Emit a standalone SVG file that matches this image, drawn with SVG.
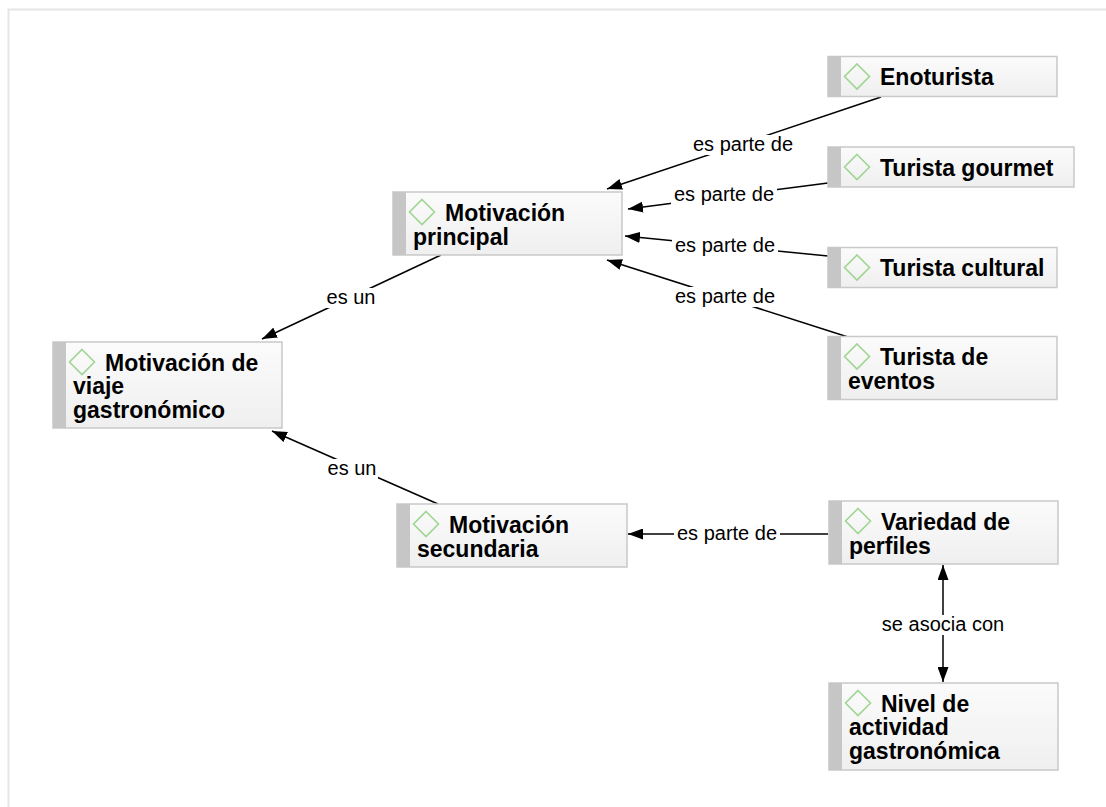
<svg xmlns="http://www.w3.org/2000/svg" width="1106" height="807" viewBox="0 0 1106 807">
<style>
.box{fill:url(#g);stroke:#c9c9c9;stroke-width:1.5}
.bar{fill:#c6c6c6}
.dia{fill:none;stroke:#9fd592;stroke-width:1.6}
.t{font-family:"Liberation Sans",Arial,sans-serif;font-weight:bold;font-size:23px;fill:#000}
.e{stroke:#000;stroke-width:1.5;fill:none}
.lb{font-family:"Liberation Sans",Arial,sans-serif;font-size:20px;fill:#000;text-anchor:middle}
.lbg{fill:#fff}
</style>
<defs>
<linearGradient id="g" x1="0" y1="0" x2="0" y2="1">
<stop offset="0" stop-color="#fbfbfb"/>
<stop offset="1" stop-color="#efefef"/>
</linearGradient>
<marker id="a" markerUnits="userSpaceOnUse" markerWidth="15" markerHeight="11" refX="15" refY="5.5" orient="auto">
<path d="M0,0 L15,5.5 L0,11 z" fill="#000"/>
</marker>
<marker id="as" markerUnits="userSpaceOnUse" markerWidth="15" markerHeight="11" refX="0" refY="5.5" orient="auto">
<path d="M15,0 L0,5.5 L15,11 z" fill="#000"/>
</marker>
</defs>
<rect width="1106" height="807" fill="#fff"/>
<path d="M8.5,807 V9.5 H1106" fill="none" stroke="#e6e6e6" stroke-width="2"/>

<g id="connectors">
<line class="e" x1="881" y1="97" x2="607" y2="189" marker-end="url(#a)"/>
<line class="e" x1="828" y1="183" x2="628" y2="209" marker-end="url(#a)"/>
<line class="e" x1="828" y1="256" x2="625" y2="236" marker-end="url(#a)"/>
<line class="e" x1="848" y1="337" x2="607" y2="260" marker-end="url(#a)"/>
<line class="e" x1="441" y1="255" x2="262" y2="339" marker-end="url(#a)"/>
<line class="e" x1="438" y1="504" x2="272" y2="431" marker-end="url(#a)"/>
<line class="e" x1="828" y1="534" x2="628" y2="534" marker-end="url(#a)"/>
<line class="e" x1="943" y1="565" x2="943" y2="682" marker-start="url(#as)" marker-end="url(#a)"/>
<rect class="lbg" x="691" y="135" width="104" height="20"/>
<text class="lb" x="743" y="151">es parte de</text>
<rect class="lbg" x="671" y="185" width="106" height="20"/>
<text class="lb" x="724" y="201">es parte de</text>
<rect class="lbg" x="672" y="236" width="106" height="20"/>
<text class="lb" x="725" y="252">es parte de</text>
<rect class="lbg" x="672" y="287" width="106" height="20"/>
<text class="lb" x="725" y="303">es parte de</text>
<rect class="lbg" x="325" y="288" width="52" height="20"/>
<text class="lb" x="351" y="304">es un</text>
<rect class="lbg" x="326" y="459" width="52" height="20"/>
<text class="lb" x="352" y="475">es un</text>
<rect class="lbg" x="674" y="524" width="106" height="20"/>
<text class="lb" x="727" y="540">es parte de</text>
<rect class="lbg" x="876" y="615" width="134" height="20"/>
<text class="lb" x="943" y="631">se asocia con</text>
</g>

<g id="n-enoturista">
<rect class="box" x="828" y="56.5" width="229" height="40"/>
<rect class="bar" x="828" y="56.5" width="13" height="40"/>
<path class="dia" d="M857,64 L869.5,76.5 L857,89 L844.5,76.5 Z"/>
<text class="t" x="880" y="85">Enoturista</text>
</g>
<g id="n-gourmet">
<rect class="box" x="828" y="147" width="246" height="40"/>
<rect class="bar" x="828" y="147" width="13" height="40"/>
<path class="dia" d="M857,154.5 L869.5,167 L857,179.5 L844.5,167 Z"/>
<text class="t" x="880" y="175.5">Turista gourmet</text>
</g>
<g id="n-cultural">
<rect class="box" x="828" y="247.5" width="229" height="40"/>
<rect class="bar" x="828" y="247.5" width="13" height="40"/>
<path class="dia" d="M857,255 L869.5,267.5 L857,280 L844.5,267.5 Z"/>
<text class="t" x="880" y="276">Turista cultural</text>
</g>
<g id="n-eventos">
<rect class="box" x="828" y="336.5" width="229" height="63"/>
<rect class="bar" x="828" y="336.5" width="13" height="63"/>
<path class="dia" d="M857,344 L869.5,356.5 L857,369 L844.5,356.5 Z"/>
<text class="t"><tspan x="880" y="365">Turista de</tspan><tspan x="848" y="389">eventos</tspan></text>
</g>
<g id="n-principal">
<rect class="box" x="393" y="192" width="229" height="63"/>
<rect class="bar" x="393" y="192" width="13" height="63"/>
<path class="dia" d="M422,199.5 L434.5,212 L422,224.5 L409.5,212 Z"/>
<text class="t"><tspan x="445" y="220.5">Motivación</tspan><tspan x="413" y="244.5">principal</tspan></text>
</g>
<g id="n-viaje">
<rect class="box" x="53" y="342" width="229" height="86"/>
<rect class="bar" x="53" y="342" width="13" height="86"/>
<path class="dia" d="M82,349.5 L94.5,362 L82,374.5 L69.5,362 Z"/>
<text class="t"><tspan x="105" y="370.5">Motivación de</tspan><tspan x="73" y="394">viaje</tspan><tspan x="73" y="417.5">gastronómico</tspan></text>
</g>
<g id="n-secundaria">
<rect class="box" x="397" y="504" width="230" height="63"/>
<rect class="bar" x="397" y="504" width="13" height="63"/>
<path class="dia" d="M426,511.5 L438.5,524 L426,536.5 L413.5,524 Z"/>
<text class="t"><tspan x="449" y="532.5">Motivación</tspan><tspan x="417" y="556.5">secundaria</tspan></text>
</g>
<g id="n-variedad">
<rect class="box" x="829" y="501" width="229" height="63"/>
<rect class="bar" x="829" y="501" width="13" height="63"/>
<path class="dia" d="M858,508.5 L870.5,521 L858,533.5 L845.5,521 Z"/>
<text class="t"><tspan x="881" y="529.5">Variedad de</tspan><tspan x="849" y="553.5">perfiles</tspan></text>
</g>
<g id="n-nivel">
<rect class="box" x="829" y="683" width="229" height="87"/>
<rect class="bar" x="829" y="683" width="13" height="87"/>
<path class="dia" d="M858,690.5 L870.5,703 L858,715.5 L845.5,703 Z"/>
<text class="t"><tspan x="881" y="711.5">Nivel de</tspan><tspan x="849" y="735">actividad</tspan><tspan x="849" y="758.5">gastronómica</tspan></text>
</g>
</svg>
